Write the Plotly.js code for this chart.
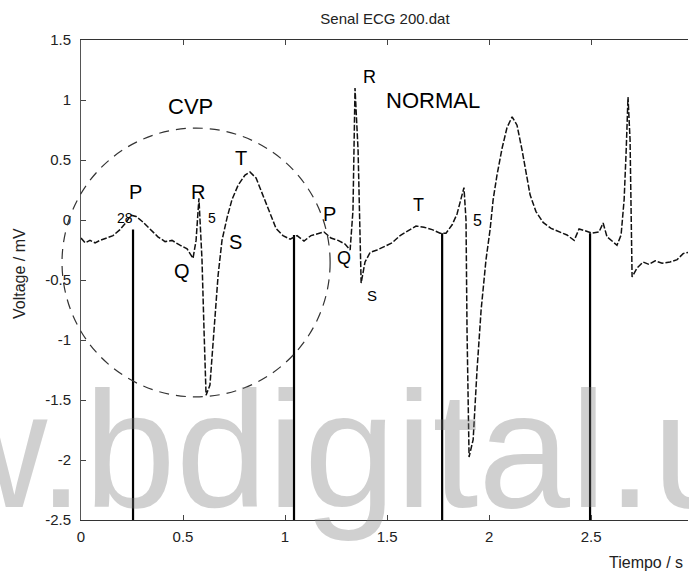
<!DOCTYPE html>
<html><head><meta charset="utf-8">
<script src="https://cdn.plot.ly/plotly-3.0.1.min.js"></script>
<style>html,body{margin:0;padding:0;background:#fff;}#chart{width:689px;height:575px;}</style>
</head><body><div id="chart"></div>
<script>
// ECG samples (time in s, voltage in mV)
const timeS = [0, 0.020, 0.044, 0.069, 0.093, 0.127, 0.157, 0.191, 0.221, 0.245, 0.270, 0.299, 0.338, 0.377, 0.412, 0.446, 0.485, 0.520, 0.549, 0.564, 0.578, 0.593, 0.603, 0.613, 0.632, 0.652, 0.672, 0.691, 0.716, 0.740, 0.770, 0.804, 0.828, 0.858, 0.887, 0.922, 0.956, 0.990, 1.025, 1.059, 1.093, 1.127, 1.162, 1.191, 1.225, 1.260, 1.294, 1.319, 1.333, 1.343, 1.358, 1.373, 1.392, 1.417, 1.451, 1.485, 1.525, 1.564, 1.603, 1.642, 1.681, 1.721, 1.760, 1.789, 1.819, 1.843, 1.863, 1.877, 1.887, 1.892, 1.902, 1.922, 1.941, 1.961, 1.985, 2.005, 2.020, 2.039, 2.064, 2.088, 2.113, 2.137, 2.162, 2.181, 2.201, 2.230, 2.265, 2.304, 2.343, 2.382, 2.417, 2.441, 2.471, 2.505, 2.539, 2.559, 2.578, 2.603, 2.627, 2.647, 2.662, 2.672, 2.681, 2.691, 2.701, 2.725, 2.755, 2.784, 2.814, 2.848, 2.887, 2.922, 2.951, 2.975];
const voltageMV = [-0.15, -0.19, -0.17, -0.19, -0.17, -0.15, -0.13, -0.08, -0.02, 0.04, 0.03, -0.01, -0.075, -0.14, -0.18, -0.17, -0.21, -0.24, -0.32, -0.17, 0.18, -0.33, -0.92, -1.46, -1.375, -0.92, -0.46, -0.17, 0.02, 0.17, 0.29, 0.375, 0.40, 0.35, 0.225, 0.07, -0.07, -0.13, -0.16, -0.13, -0.175, -0.13, -0.11, -0.10, -0.15, -0.17, -0.20, -0.25, 0.08, 1.10, 0.58, -0.525, -0.35, -0.27, -0.25, -0.22, -0.19, -0.13, -0.09, -0.05, -0.06, -0.08, -0.11, -0.11, -0.04, 0.05, 0.18, 0.27, 0.0, -0.92, -1.975, -1.83, -1.25, -0.75, -0.33, -0.08, 0.17, 0.375, 0.60, 0.77, 0.86, 0.79, 0.58, 0.40, 0.21, 0.07, -0.02, -0.07, -0.10, -0.125, -0.17, -0.075, -0.09, -0.11, -0.10, -0.025, -0.14, -0.175, -0.21, -0.125, 0.17, 0.58, 1.025, 0.67, -0.475, -0.40, -0.35, -0.37, -0.34, -0.36, -0.35, -0.33, -0.28, -0.27];

// vertical marker lines (time, top voltage)
const markerTimes = [0.255, 1.044, 1.770, 2.495];
const markerTops = [-0.08, -0.125, -0.11, -0.11];

// ticks
const xTickVals = [0, 0.5, 1, 1.5, 2, 2.5];
const xTickText = ["0", "0.5", "1", "1.5", "2", "2.5"];
const yTickVals = [1.5, 1, 0.5, 0, -0.5, -1, -1.5, -2, -2.5];
const yTickText = ["1.5", "1", "0.5", "0", "-0.5", "-1", "-1.5", "-2", "-2.5"];

// wave labels
const waveLabels = ["P", "28", "R", "5", "Q", "S", "T", "P", "Q", "R", "S", "T", "5", "CVP", "NORMAL"];
const waveLabelT = [0.265, 0.216, 0.574, 0.642, 0.495, 0.755, 0.784, 1.216, 1.289, 1.412, 1.426, 1.652, 1.941, 0.539, 1.725];
const waveLabelV = [0.233, 0.017, 0.233, 0.017, -0.425, -0.183, 0.517, 0.05, -0.317, 1.192, -0.625, 0.125, 0.0, 0.95, 0.992];
const waveLabelSize = [20, 14, 20, 14, 20, 20, 20, 20, 18, 18, 15, 18, 16, 22, 22];

// CVP ellipse (data units)
const ellipseCenterT = 0.564, ellipseHalfT = 0.657;
const ellipseCenterV = -0.354, ellipseHalfV = 1.12;

const xRange = [0, 2.975];
const yRange = [-2.5, 1.5];
const W = 689, H = 575;
const M = {l: 81, r: 1, t: 40, b: 55};
const pw = W - M.l - M.r, ph = H - M.t - M.b;
const pxX = px => (px - M.l) / pw;
const pxY = py => (H - M.b - py) / ph;
const tToPaper = t => (t - xRange[0]) / (xRange[1] - xRange[0]);

const FONT = "Liberation Sans, Arial, Helvetica, sans-serif";

const mx = [], my = [];
markerTimes.forEach((t, i) => { mx.push(t, t, null); my.push(markerTops[i], yRange[0], null); });

const traces = [
  {x: mx, y: my, mode: 'lines', line: {color: '#000', width: 2.2}, hoverinfo: 'skip', showlegend: false},
  {x: timeS, y: voltageMV, mode: 'lines', line: {color: '#111', width: 1.5, dash: '6px,2px'}, showlegend: false}
];

const annotations = waveLabels.map((s, i) => ({
  text: s, x: waveLabelT[i], y: waveLabelV[i], xref: 'x', yref: 'y',
  showarrow: false, xanchor: 'center', yanchor: 'middle',
  font: {family: FONT, size: waveLabelSize[i], color: '#000'}
}));
annotations.push({
  text: 'w.bdigital.u', xref: 'paper', yref: 'paper', x: pxX(-75), y: pxY(450),
  xanchor: 'left', yanchor: 'middle', showarrow: false,
  font: {family: FONT, size: 165, color: 'rgba(120,120,120,0.35)'}
});
annotations.push({
  text: 'Voltage / mV', xref: 'paper', yref: 'paper', x: pxX(19), y: pxY(274),
  xanchor: 'center', yanchor: 'middle', textangle: -90, showarrow: false,
  font: {family: FONT, size: 16, color: '#222'}
});
annotations.push({
  text: 'Tiempo / s', xref: 'paper', yref: 'paper', x: pxX(607), y: pxY(562),
  xanchor: 'left', yanchor: 'middle', showarrow: false,
  font: {family: FONT, size: 16, color: '#222'}
});

const shapes = [{
  type: 'circle', xref: 'paper', yref: 'y',
  x0: tToPaper(ellipseCenterT - ellipseHalfT), x1: tToPaper(ellipseCenterT + ellipseHalfT),
  y0: ellipseCenterV - ellipseHalfV, y1: ellipseCenterV + ellipseHalfV,
  line: {color: '#333', width: 1.2, dash: '10px,7px'}
}];

const layout = {
  width: W, height: H, margin: M,
  paper_bgcolor: '#fff', plot_bgcolor: '#fff',
  title: {text: 'Senal ECG 200.dat', font: {family: FONT, size: 15, color: '#222'},
          x: pxX(385) * pw / W + M.l / W, xanchor: 'center', y: 1 - 19 / H, yanchor: 'middle', yref: 'container', xref: 'container'},
  xaxis: {range: xRange, tickvals: xTickVals, ticktext: xTickText, ticks: 'inside', ticklen: 5,
          showline: true, linecolor: '#333', linewidth: 1, mirror: 'ticks', showgrid: false, zeroline: false,
          tickfont: {family: FONT, size: 15, color: '#222'}, ticklabelstandoff: 3},
  yaxis: {range: yRange, tickvals: yTickVals, ticktext: yTickText, ticks: 'inside', ticklen: 5,
          showline: true, linecolor: '#555', linewidth: 1, showgrid: false, zeroline: false,
          tickfont: {family: FONT, size: 15, color: '#222'}, ticklabelstandoff: 6},
  annotations: annotations, shapes: shapes, showlegend: false
};

Plotly.newPlot('chart', traces, layout, {staticPlot: true, displayModeBar: false});
</script></body></html>
